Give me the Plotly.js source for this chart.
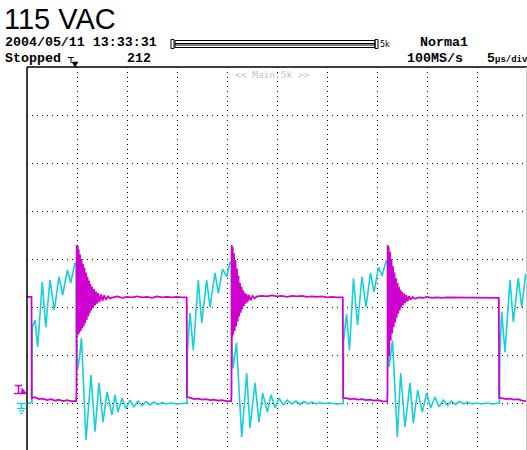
<!DOCTYPE html>
<html>
<head>
<meta charset="utf-8">
<script src="https://cdn.plot.ly/plotly-3.0.1.min.js"></script>
<style>
  html, body { margin: 0; padding: 0; background: #fff; }
  #chart { width: 527px; height: 450px; }
</style>
</head>
<body>
<div id="chart"></div>
<script>
// Time in microseconds (5 us/div, 10 divisions), amplitude in graticule divisions.
const chartTitle = '115 VAC';
const headerDate = '2004/05/11 13:33:31';
const headerMode = 'Norma1';
const headerState = 'Stopped';
const headerCount = '212';
const headerRate = '100MS/s';
const headerTimebase = '5';
const headerTimebaseUnit = 'µs/div';
const headerZoom = '&lt;&lt; Main:5k &gt;&gt;';
const headerRecord = '5k';

// Channel drawn in magenta
const magentaTime = [
  0.00, 0.30, 0.45, 0.47, 0.80, 1.20, 1.60, 2.00, 2.40, 2.80, 3.20, 3.60, 4.00, 4.40, 4.80, 4.92,
  4.95, 4.97,
  5.02, 5.07, 5.12, 5.17, 5.22, 5.30, 5.37, 5.45, 5.52, 5.60, 5.67, 5.75, 5.82, 5.90, 5.97, 6.05,
  6.12, 6.20, 6.27, 6.35, 6.42, 6.50, 6.60, 6.70, 6.80, 6.90, 7.00, 7.12, 7.25, 7.40, 7.55, 7.70,
  7.90, 8.10, 8.30,
  8.60, 9.00, 9.50, 10.0, 10.5, 11.0, 11.5, 12.0, 12.5, 13.0, 13.5, 14.0, 14.5, 15.0, 15.5, 15.9,
  15.97, 16.00,
  16.3, 16.7, 17.1, 17.5, 17.9, 18.3, 18.7, 19.1, 19.5, 19.9, 20.3, 20.42,
  20.45, 20.47,
  20.52, 20.57, 20.62, 20.70, 20.77, 20.85, 20.92, 21.00, 21.07, 21.15, 21.22, 21.30, 21.37, 21.45,
  21.52, 21.60, 21.68, 21.76, 21.85, 21.95, 22.05, 22.20, 22.35, 22.55, 22.75, 23.00,
  23.5, 24.0, 24.5, 25.0, 25.5, 26.0, 26.5, 27.0, 27.5, 28.0, 28.5, 29.0, 29.5, 30.0, 30.5, 31.0, 31.5,
  31.58, 31.62,
  31.9, 32.3, 32.7, 33.1, 33.5, 33.9, 34.3, 34.7, 35.1, 35.5, 35.9, 36.02,
  36.05, 36.07,
  36.12, 36.17, 36.22, 36.30, 36.37, 36.45, 36.52, 36.60, 36.67, 36.75, 36.82, 36.90, 36.97, 37.05,
  37.12, 37.20, 37.27, 37.35, 37.42, 37.50, 37.60, 37.70, 37.80, 37.92, 38.05, 38.20, 38.35, 38.55, 38.80,
  39.2, 39.6, 40.0, 40.5, 41.0, 41.5, 42.0, 42.5, 43.0, 43.5, 44.0, 44.5, 45.0, 45.5, 46.0, 46.5, 47.1,
  47.18, 47.22,
  47.5, 47.9, 48.3, 48.7, 49.1, 49.5, 50.0
];
const magentaLevel = [
  3.21, 3.20, 3.21, 1.10, 1.12, 1.08, 1.09, 1.06, 1.08, 1.05, 1.07, 1.04, 1.06, 1.04, 1.05, 1.04,
  1.20, 4.29,
  2.45, 4.27, 2.42, 4.20, 2.46, 4.10, 2.50, 4.00, 2.55, 3.90, 2.60, 3.82, 2.66, 3.72, 2.73, 3.63,
  2.80, 3.55, 2.87, 3.48, 2.93, 3.42, 2.98, 3.37, 3.03, 3.32, 3.07, 3.29, 3.10, 3.26, 3.13, 3.24,
  3.16, 3.22, 3.18,
  3.20, 3.22, 3.19, 3.21, 3.20, 3.22, 3.20, 3.21, 3.19, 3.22, 3.20, 3.21, 3.20, 3.21, 3.20, 3.21,
  3.20, 1.12,
  1.11, 1.08, 1.09, 1.07, 1.08, 1.06, 1.07, 1.05, 1.06, 1.04, 1.05, 1.04,
  1.20, 4.29,
  2.38, 4.25, 2.42, 4.12, 2.50, 3.98, 2.60, 3.80, 2.70, 3.65, 2.80, 3.50, 2.88, 3.42,
  2.95, 3.35, 3.02, 3.30, 3.07, 3.27, 3.10, 3.25, 3.14, 3.23, 3.18, 3.22,
  3.23, 3.22, 3.24, 3.22, 3.23, 3.21, 3.23, 3.22, 3.23, 3.21, 3.22, 3.21, 3.22, 3.20, 3.21, 3.20, 3.20,
  3.20, 1.10,
  1.10, 1.08, 1.09, 1.07, 1.08, 1.06, 1.07, 1.05, 1.06, 1.04, 1.04, 1.03,
  1.20, 4.29,
  2.10, 4.26, 1.98, 4.15, 2.30, 4.00, 2.45, 3.85, 2.58, 3.72, 2.68, 3.60, 2.78, 3.50,
  2.86, 3.42, 2.93, 3.36, 2.99, 3.31, 3.04, 3.28, 3.08, 3.25, 3.12, 3.23, 3.15, 3.21, 3.17,
  3.20, 3.19, 3.21, 3.19, 3.20, 3.19, 3.20, 3.20, 3.19, 3.20, 3.19, 3.20, 3.19, 3.20, 3.19, 3.20, 3.19,
  3.19, 1.10,
  1.10, 1.08, 1.09, 1.07, 1.08, 1.05, 1.04
];

// Channel drawn in cyan
const cyanTime = [
  0.00, 0.20, 0.35, 0.50,
  0.53, 0.80, 1.07, 1.53, 1.87, 2.30, 2.73, 3.20, 3.57, 4.03, 4.37, 4.80, 4.92,
  4.95, 5.05, 5.25, 5.45, 5.90, 6.40, 6.80, 7.20, 7.60, 8.00, 8.50, 8.80, 9.10, 9.50, 9.90,
  10.3, 10.7, 11.1, 11.5, 11.9, 12.3, 12.7, 13.1, 13.5, 13.9, 14.4, 15.0, 15.5, 16.00,
  16.05, 16.30, 16.63, 17.13, 17.47, 17.97, 18.30, 18.80, 19.13, 19.57, 19.97, 20.30, 20.44,
  20.48, 20.60, 20.75, 20.95, 21.47, 21.97, 22.30, 22.80, 23.20, 23.57, 24.03, 24.40, 24.80,
  25.20, 25.63, 26.03, 26.47, 26.90, 27.30, 27.70, 28.10, 28.50, 28.90, 29.30, 29.70, 30.30, 31.00, 31.62,
  31.66, 31.95, 32.25, 32.65, 33.05, 33.50, 33.90, 34.35, 34.70, 35.15, 35.50, 35.95, 36.05,
  36.08, 36.20, 36.35, 36.55, 37.03, 37.37, 37.80, 38.30, 38.63, 39.07, 39.53, 39.97, 40.37,
  40.80, 41.20, 41.63, 42.05, 42.45, 42.85, 43.25, 43.65, 44.05, 44.50, 45.00, 45.50, 46.00, 46.50, 47.00, 47.25,
  47.28, 47.47, 47.80, 48.30, 48.63, 49.13, 49.47, 49.87, 50.00
];
const cyanLevel = [
  1.00, 0.99, 1.01, 1.00,
  2.58, 2.73, 2.17, 3.52, 2.58, 3.56, 2.94, 3.63, 3.25, 3.77, 3.50, 3.92, 3.85,
  2.30, 1.70, 1.95, 2.35, 0.23, 1.58, 0.40, 1.42, 0.60, 1.23, 0.75, 1.17, 0.81, 1.10, 0.88,
  1.06, 0.92, 1.04, 0.94, 1.03, 0.96, 1.02, 0.97, 1.01, 0.98, 1.00, 0.98, 0.99, 1.00,
  2.10, 2.875, 2.10, 3.56, 2.67, 3.56, 3.00, 3.71, 3.29, 3.79, 3.625, 3.94, 3.90,
  2.30, 1.72, 2.00, 2.25, 0.29, 1.62, 0.48, 1.42, 0.60, 1.21, 0.81, 1.17, 0.90,
  1.10, 0.96, 1.06, 0.98, 1.04, 0.97, 1.03, 0.98, 1.02, 0.98, 1.01, 0.99, 1.00, 0.98, 0.99,
  2.30, 2.85, 2.10, 3.60, 2.625, 3.63, 3.00, 3.71, 3.31, 3.83, 3.65, 3.98, 3.92,
  2.30, 1.75, 2.00, 2.30, 0.29, 1.625, 0.50, 1.42, 0.58, 1.27, 0.81, 1.21, 0.90,
  1.125, 0.92, 1.06, 0.95, 1.04, 0.97, 1.03, 0.98, 1.02, 0.98, 1.00, 0.98, 1.00, 0.98, 0.99, 1.00,
  2.00, 2.90, 2.06, 3.56, 2.69, 3.60, 3.00, 3.69, 3.60
];

// pixel helpers for markers outside the plotting area (plot area: x 27..527, y 67..450)
const PX = px => (px - 27) / 500;
const PY = py => (450 - py) / 383;

const traces = [
  { x: cyanTime, y: cyanLevel, type: 'scatter', mode: 'lines',
    line: { color: '#14d0d8', width: 1.6 }, hoverinfo: 'skip', showlegend: false },
  { x: magentaTime, y: magentaLevel, type: 'scatter', mode: 'lines',
    line: { color: '#d000d0', width: 1.8 }, hoverinfo: 'skip', showlegend: false }
];

const mono = { family: 'Liberation Mono, DejaVu Sans Mono, monospace', size: 13.3, color: '#000', weight: 'bold' };

function note(text, px, py, font, anchor) {
  return { text: text, xref: 'paper', yref: 'paper', x: PX(px), y: PY(py),
    xanchor: anchor || 'left', yanchor: 'middle', showarrow: false, font: font, borderpad: 0 };
}

const annotations = [
  note(headerDate, 4, 43, mono),
  note(headerMode, 419, 43, mono),
  note(headerState, 4, 58, mono),
  note(headerCount, 126, 58, mono),
  note(headerRate, 406, 58, mono),
  note(headerTimebase + '<span style="font-size:9px">' + headerTimebaseUnit + '</span>', 486, 58, mono),
  note(headerRecord, 379, 44, { family: 'DejaVu Sans', size: 8, color: '#000' }),
  note(headerZoom, 272, 74, { family: 'DejaVu Sans Mono, monospace', size: 9.5, color: '#c4c4c4' }, 'center')
];

function seg(x0, y0, x1, y1, color, w) {
  return { type: 'line', xref: 'paper', yref: 'paper', x0: PX(x0), y0: PY(y0), x1: PX(x1), y1: PY(y1),
    line: { color: color, width: w || 1 }, layer: 'above' };
}
function tri(pts, color) {
  const d = 'M ' + pts.map(p => PX(p[0]) + ',' + PY(p[1])).join(' L ') + ' Z';
  return { type: 'path', xref: 'paper', yref: 'paper', path: d, fillcolor: color,
    line: { color: color, width: 0.5 }, layer: 'above' };
}

const shapes = [
  // graticule frame
  seg(27, 67, 527, 67, '#000', 1.5),
  seg(27, 67, 27, 450, '#000', 1.5),
  seg(526.5, 67, 526.5, 450, '#c8c8c8', 1),
  // record-length bar in the header
  { type: 'rect', xref: 'paper', yref: 'paper', x0: PX(171), y0: PY(39.5), x1: PX(174), y1: PY(48.5),
    line: { color: '#000', width: 1 } },
  { type: 'rect', xref: 'paper', yref: 'paper', x0: PX(175), y0: PY(40.5), x1: PX(375), y1: PY(47.5),
    line: { color: '#000', width: 1 } },
  seg(175, 43.5, 375, 43.5, '#000', 1),
  seg(175, 45, 375, 45, '#000', 1),
  { type: 'rect', xref: 'paper', yref: 'paper', x0: PX(375), y0: PY(39.5), x1: PX(378), y1: PY(48.5),
    line: { color: '#000', width: 1 } },
  // trigger symbol next to "Stopped" and trigger position arrow
  seg(68, 57.5, 74, 57.5, '#000', 1),
  seg(71, 57.5, 71, 63, '#000', 1),
  tri([[72, 62], [78, 62], [75, 67]], '#000'),
  // trigger level marker (magenta)
  seg(15, 385.5, 22, 385.5, '#d000d0', 1.5),
  seg(18.5, 385.5, 18.5, 393, '#d000d0', 1.5),
  seg(14, 393.5, 26, 393.5, '#d000d0', 1.5),
  tri([[21, 393], [26, 393], [22, 388]], '#d000d0'),
  // ground marker (cyan)
  seg(17, 403.5, 27, 403.5, '#14d0d8', 1.5),
  seg(21.5, 403.5, 21.5, 408.5, '#14d0d8', 1.5),
  seg(17, 408.5, 25.5, 408.5, '#14d0d8', 1.2),
  seg(18.5, 411, 24, 411, '#14d0d8', 1.2),
  seg(20, 413.5, 22.5, 413.5, '#14d0d8', 1.2)
];

const layout = {
  width: 527, height: 450,
  margin: { l: 27, r: 0, t: 67, b: 0, pad: 0 },
  paper_bgcolor: '#ffffff', plot_bgcolor: '#ffffff',
  title: { text: chartTitle, xref: 'container', yref: 'container', x: 4 / 527, xanchor: 'left',
    y: 1 - 18.5 / 450, yanchor: 'middle',
    font: { family: 'Liberation Sans, Arial, sans-serif', size: 29, color: '#000' } },
  xaxis: { range: [0, 50], tick0: 0, dtick: 5, showgrid: true, gridcolor: '#000', gridwidth: 1,
    griddash: '1px,3.8px', zeroline: false, showline: false, showticklabels: false, ticks: '',
    fixedrange: true },
  yaxis: { range: [8 - 383 / 48, 8], tick0: 0, dtick: 1, showgrid: true, gridcolor: '#000', gridwidth: 1,
    griddash: '1px,4px', zeroline: false, showline: false, showticklabels: false, ticks: '',
    fixedrange: true },
  annotations: annotations,
  shapes: shapes,
  showlegend: false
};

Plotly.newPlot('chart', traces, layout, { staticPlot: true, displayModeBar: false });
</script>
</body>
</html>
